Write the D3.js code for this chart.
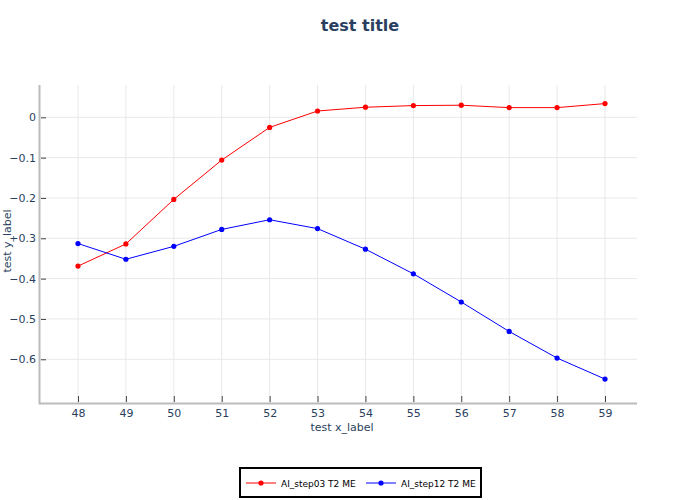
<!DOCTYPE html>
<html><head><meta charset="utf-8">
<script src="https://cdn.jsdelivr.net/npm/d3@7"></script>
<style>body{margin:0;background:#fff}</style>
</head><body>
<svg id="c" width="700" height="500"></svg>
<script>
const xValues = [48,49,50,51,52,53,54,55,56,57,58,59];
const series1Name = "AI_step03 T2 ME";
const series1 = [-0.369,-0.314,-0.2035,-0.106,-0.025,0.0156,0.025,0.029,0.030,0.024,0.024,0.034];
const series2Name = "AI_step12 T2 ME";
const series2 = [-0.313,-0.352,-0.320,-0.278,-0.254,-0.276,-0.327,-0.388,-0.458,-0.531,-0.597,-0.649];
const yTicks = [0,-0.1,-0.2,-0.3,-0.4,-0.5,-0.6];
const title = "test title", xLabel = "test x_label", yLabel = "test y_label";

const font = "'DejaVu Sans', Verdana, sans-serif";
const txt = "#2a3f5f";
const svg = d3.select("#c");
const L=40,R=637,T=85,B=403;
const x = d3.scaleLinear().domain([47.207,59.668]).range([L,R]);
const y = d3.scaleLinear().domain([-0.7084,0.0801]).range([B,T]);

// grid
svg.append("g").selectAll("line").data(xValues).join("line")
  .attr("x1",d=>x(d)).attr("x2",d=>x(d)).attr("y1",T).attr("y2",B)
  .attr("stroke","#e8e8e8").attr("stroke-width",1);
svg.append("g").selectAll("line").data(yTicks).join("line")
  .attr("x1",L).attr("x2",R).attr("y1",d=>y(d)).attr("y2",d=>y(d))
  .attr("stroke","#e8e8e8").attr("stroke-width",1);

// axes
const xa = svg.append("g").attr("transform",`translate(0,${B})`)
  .call(d3.axisBottom(x).tickValues(xValues).tickSize(0).tickPadding(6).tickFormat(d3.format("d")));
xa.select(".domain").remove();
xa.selectAll("text").attr("font-family",font).attr("font-size",11).attr("fill",txt);
xa.selectAll(".tick").append("line").attr("y1",-1).attr("y2",-7).attr("stroke","#444");

const ya = svg.append("g").attr("transform",`translate(${L},0)`)
  .call(d3.axisLeft(y).tickValues(yTicks).tickSize(0).tickPadding(4).tickFormat(d=>d===0?"0":d3.format(".1f")(d)));
ya.select(".domain").remove();
ya.selectAll("text").attr("font-family",font).attr("font-size",11).attr("fill",txt);
ya.selectAll(".tick").append("line").attr("x1",1).attr("x2",6).attr("stroke","#444");

svg.append("line").attr("x1",L).attr("x2",R).attr("y1",B+0.5).attr("y2",B+0.5).attr("stroke","#bbb").attr("stroke-width",2);
svg.append("line").attr("x1",L-0.5).attr("x2",L-0.5).attr("y1",T).attr("y2",B+1.5).attr("stroke","#bbb").attr("stroke-width",2);

// lines
const line = d3.line().x((d,i)=>x(xValues[i])).y(d=>y(d));
[[series1,"red"],[series2,"blue"]].forEach(([s,c])=>{
  svg.append("path").datum(s).attr("d",line).attr("fill","none").attr("stroke",c).attr("stroke-width",1);
  svg.append("g").selectAll("circle").data(s).join("circle")
    .attr("cx",(d,i)=>x(xValues[i])).attr("cy",d=>y(d)).attr("r",2.6).attr("fill",c);
});

// titles
svg.append("text").attr("x",360).attr("y",31).attr("text-anchor","middle")
  .attr("font-family",font).attr("font-size",16).attr("font-weight","bold").attr("fill",txt).text(title);
svg.append("text").attr("x",342).attr("y",431).attr("text-anchor","middle")
  .attr("font-family",font).attr("font-size",11).attr("fill",txt).text(xLabel);
svg.append("text").attr("transform","translate(11,241) rotate(-90)").attr("text-anchor","middle")
  .attr("font-family",font).attr("font-size",11).attr("fill",txt).text(yLabel);

// legend
svg.append("rect").attr("x",240).attr("y",468).attr("width",241).attr("height",29)
  .attr("fill","#fff").attr("stroke","#000").attr("stroke-width",2);
const items=[[series1Name,"red",246],[series2Name,"blue",366]];
items.forEach(([n,c,lx])=>{
  const g=svg.append("g");
  g.append("line").attr("x1",lx).attr("x2",lx+30).attr("y1",483).attr("y2",483).attr("stroke",c).attr("stroke-width",1);
  g.append("circle").attr("cx",lx+15).attr("cy",483).attr("r",2.6).attr("fill",c);
  g.append("text").attr("x",lx+35).attr("y",486.5).attr("font-family",font).attr("font-size",9).attr("fill","#000").text(n);
});
</script>
</body></html>
